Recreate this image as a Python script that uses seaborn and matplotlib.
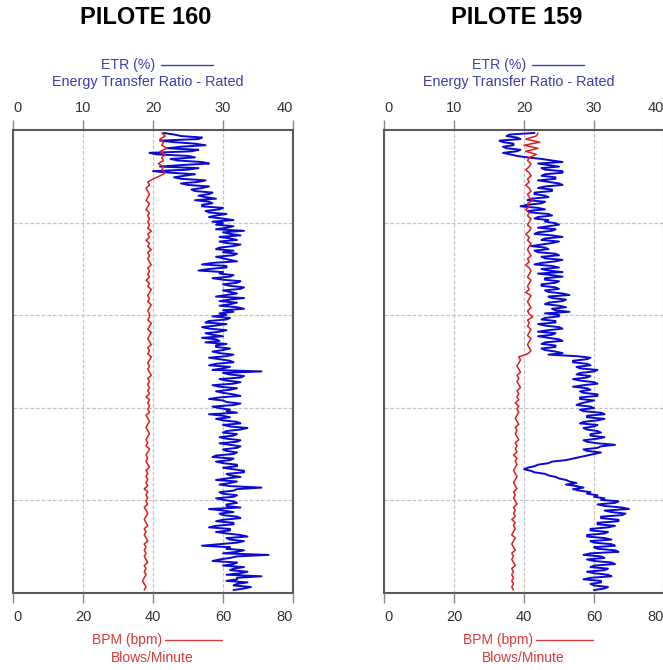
import matplotlib
matplotlib.use("Agg")
import matplotlib.pyplot as plt
import seaborn as sns
import numpy as np
import pandas as pd

sns.set_style("white")
plt.rcParams["font.family"] = ["Liberation Sans", "DejaVu Sans"]

# ---- data -------------------------------------------------------------
titles = ["PILOTE 160", "PILOTE 159"]
etr_ticks = [0, 10, 20, 30, 40]
bpm_ticks = [0, 20, 40, 60, 80]
depth_top, depth_bottom = 0.16, 24.84   # first / last recorded depth (m)

# Energy Transfer Ratio (%) per recorded sample, top to bottom
etr_160 = [
    21.5, 23.0, 24.0, 27.0, 26.5, 21.0, 23.0, 26.0, 27.5, 24.0,
    22.0, 26.5, 25.5, 19.5, 20.5, 25.0, 26.0, 22.5, 23.5, 27.0,
    28.0, 24.0, 21.0, 26.5, 25.0, 20.0, 22.5, 26.0, 24.5, 23.0,
    24.0, 27.5, 26.5, 24.0, 25.0, 28.0, 27.0, 25.5, 26.0, 28.5,
    28.0, 26.5, 27.5, 29.0, 26.0, 28.0, 28.5, 27.0, 27.0, 30.0,
    29.5, 27.5, 28.0, 30.5, 29.0, 28.0, 30.0, 31.5, 28.5, 30.0,
    29.0, 31.5, 30.5, 29.0, 33.0, 30.0, 31.0, 32.5, 29.5, 31.0,
    32.0, 29.5, 30.5, 32.5, 31.5, 29.5, 29.0, 31.5, 30.0, 32.0,
    31.5, 29.0, 30.0, 31.0, 32.0, 28.5, 27.0, 30.5, 30.5, 28.0,
    26.5, 30.0, 29.5, 31.5, 31.0, 28.5, 30.0, 32.5, 32.0, 30.0,
    31.0, 33.0, 32.5, 30.0, 31.0, 32.0, 30.5, 29.0, 33.0, 31.0,
    29.5, 32.0, 31.0, 29.5, 32.0, 33.0, 30.0, 31.5, 29.5, 30.5,
    28.5, 31.0, 30.5, 28.0, 27.5, 30.5, 29.0, 27.0, 28.0, 30.5,
    29.5, 27.5, 28.5, 30.0, 27.0, 29.0, 29.5, 27.5, 30.5, 29.0,
    29.0, 31.0, 30.0, 28.5, 29.5, 31.5, 30.5, 28.0, 29.5, 31.0,
    31.5, 29.0, 28.0, 31.0, 30.0, 28.5, 35.5, 30.0, 31.0, 33.0,
    32.5, 29.5, 30.5, 32.5, 31.5, 28.5, 29.5, 32.0, 31.0, 29.0,
    30.0, 31.5, 32.5, 29.5, 28.0, 30.0, 30.5, 32.5, 31.5, 28.5,
    29.5, 31.0,
    30.5, 32.0, 28.0, 30.0, 31.0, 29.0, 30.0, 32.0, 32.5, 30.0,
    31.0, 33.5, 32.5, 30.5, 30.0, 32.0, 31.5, 29.5, 30.5, 32.5,
    32.0, 29.5, 31.0, 32.5, 32.0, 30.0, 30.5, 32.0, 31.5, 29.0,
    28.5, 31.5, 31.0, 29.0, 30.0, 32.0, 32.0, 30.0, 31.5, 33.0,
    33.0, 30.5, 31.0, 32.5, 30.5, 29.0, 32.0, 31.0, 29.5, 31.0,
    35.5, 32.0, 31.5, 29.5, 30.0, 32.0, 31.5, 29.0, 30.0, 31.5,
    32.0, 30.5,
    30.5, 32.5, 28.0, 30.0, 31.5, 29.5, 30.0, 32.0, 32.5, 30.0,
    29.0, 31.5, 31.5, 29.0, 28.0, 31.0, 31.0, 29.0, 30.5, 32.5,
    33.5, 30.5, 31.0, 33.0, 32.0, 29.5, 27.0, 31.0, 30.5, 33.0,
    32.0, 30.0, 36.5, 32.0, 31.0, 29.5, 28.5, 32.0, 31.5, 30.0,
    33.0, 31.5, 31.0, 33.5, 32.5, 30.5, 35.5, 32.0, 32.0, 30.5,
    33.5, 32.0, 31.5, 34.0, 33.0, 31.5,
]
# Blows per minute per recorded sample, top to bottom
bpm_160 = [
    42.5, 43.5, 42.0, 43.0, 42.5, 44.0, 42.0, 43.5, 42.5, 43.0, 41.5, 43.0, 42.5, 43.5, 42.0,
    40.0, 38.5, 39.0, 38.0, 38.5, 39.0, 38.5, 38.0, 39.0, 38.5, 38.0, 39.0, 38.5, 39.0, 38.5,
    39.0, 38.5, 39.5, 38.5, 39.0, 38.0, 39.0, 38.5, 39.5, 38.5, 39.0, 38.5, 39.0, 39.5, 38.5,
    39.0, 38.5, 39.0, 38.0, 39.0, 38.5, 39.5, 39.0, 38.5, 39.0, 38.5, 39.5, 39.0, 38.5, 39.0,
    39.0, 38.5, 39.5, 39.0, 38.5, 39.5, 39.0, 38.5, 39.0, 39.5, 38.5, 39.0, 38.5, 39.5, 39.0,
    38.5, 39.0, 38.5, 39.0, 39.5, 38.5, 39.0, 38.5, 39.0, 38.5, 39.0, 38.0, 39.0, 38.5, 39.0,
    38.5, 39.0, 38.0, 38.5, 39.0, 38.5, 38.0, 38.5, 39.0, 38.5, 38.0, 38.5, 38.0, 39.0, 38.5,
    38.0, 38.5, 38.0, 38.5, 39.0, 38.0, 38.5, 38.0, 38.5, 38.0, 38.5, 37.5, 38.5, 38.0, 38.5,
    38.0, 38.5, 37.5, 38.0, 38.5, 38.0, 37.5, 38.0, 38.5, 37.5, 38.0, 37.5, 38.0, 38.5, 37.5,
    38.0, 37.5, 38.0, 37.5, 38.0, 38.5, 37.5, 38.0, 37.5, 38.0, 37.5, 37.0, 37.5, 38.0, 37.5,
]
etr_159 = [
    21.5, 18.0, 17.5, 19.0, 19.5, 16.5, 17.0, 18.5, 18.5, 17.0,
    17.5, 19.5, 19.0, 17.0, 18.0, 19.0, 20.5, 22.5,
    24.0, 25.5, 22.0, 23.5, 25.0, 22.5, 23.0, 25.5, 25.5, 23.0,
    22.5, 24.5, 24.5, 22.0, 23.5, 25.0, 25.5, 23.0, 22.0, 24.0,
    24.0, 21.5, 21.5, 23.0, 23.5, 21.0, 20.5, 23.0, 22.5, 20.5,
    19.5, 22.0, 23.0, 20.5, 21.0, 23.5, 24.0, 22.0, 21.5, 23.5,
    23.0, 24.5,
    25.0, 23.5, 22.0, 24.5, 24.0, 22.0, 21.5, 24.0, 25.5, 23.0,
    22.5, 25.0, 24.0, 22.5, 21.0, 23.0, 23.5, 21.5, 22.0, 24.5,
    25.0, 22.5, 23.0, 25.5, 24.5, 22.5, 21.5, 24.0, 25.0, 22.5,
    23.5, 25.5, 22.0, 24.0, 25.5, 23.0, 23.0, 25.0, 24.5, 22.5,
    22.5, 24.5, 25.0, 23.0, 23.5, 25.5, 26.5, 23.5, 24.0, 26.0,
    25.5, 23.5, 23.0, 25.0, 26.0, 24.0, 24.5, 26.5, 23.0, 25.0,
    25.0, 23.0, 22.5, 24.5, 24.5, 22.0, 23.0, 25.0, 25.5, 23.5,
    22.0, 24.5, 24.0, 22.0, 23.5, 25.0, 25.5, 23.0, 22.5, 24.5,
    24.5, 22.5, 23.0, 24.5, 25.5, 23.5,
    27.5, 29.5, 29.0, 27.0, 27.0, 29.0, 29.5, 27.5, 28.0, 30.5,
    30.0, 28.0, 27.5, 29.5, 29.0, 27.0, 28.0, 30.0, 30.5, 28.5,
    27.0, 29.0, 29.5, 28.0, 28.5, 30.5, 30.5, 28.0, 28.0, 30.0,
    29.0, 28.0, 27.5, 29.5, 30.0, 28.0, 28.5, 31.0, 31.5, 29.0,
    29.0, 31.5, 30.5, 28.5, 28.0, 30.5, 30.0, 28.5, 29.0, 30.5,
    31.0, 29.5, 29.5, 31.5, 30.5, 28.5, 29.0, 30.5, 33.0, 31.0,
    30.5, 28.5, 29.0, 31.0, 30.0, 29.0,
    28.0, 27.0, 26.0, 24.0, 23.5, 22.0, 21.5, 20.5, 20.0, 21.0,
    21.5, 23.0, 23.5, 24.5, 25.0, 26.0, 26.5, 27.5, 26.0, 27.5,
    28.5, 27.0, 28.0, 29.5, 29.0, 30.5, 30.0, 31.5,
    31.0, 33.5, 33.0, 30.5, 31.5, 34.0, 35.0, 31.5, 32.5, 34.5,
    34.0, 31.0, 31.0, 33.5, 33.5, 30.5, 30.5, 33.0, 32.0, 29.5,
    29.5, 32.0, 31.5, 29.0, 29.0, 31.5, 32.5, 29.5, 30.0, 32.5,
    33.0, 30.0, 30.5, 33.0, 33.5, 29.5, 28.5, 31.0, 31.5, 29.0,
    30.0, 32.5, 33.0, 30.0, 29.5, 32.0, 31.5, 29.0, 30.0, 32.0,
    32.5, 29.5, 28.5, 31.0, 31.0, 29.5, 30.0, 32.0, 31.5, 30.0,
]
bpm_159 = [
    44.0, 43.5, 40.5, 44.5, 40.0, 44.0, 40.5, 43.5, 41.5,
    41.0, 42.0, 41.5, 40.5, 41.5, 42.0, 41.0, 41.5, 40.5, 41.5, 42.0, 41.0, 41.5, 42.5, 41.0,
    41.5, 40.5, 41.5, 41.0, 42.0, 41.5, 41.0, 42.0, 41.5, 40.5, 41.5, 41.0, 42.0, 41.5, 41.0,
    41.5, 42.0, 41.0, 41.5, 40.5, 41.5, 42.0, 41.5, 41.0, 42.0, 41.5, 41.0, 41.5, 40.5, 42.0,
    41.5, 41.0, 41.5, 42.0, 41.0, 41.5, 42.5, 41.0, 41.5, 41.0, 42.0, 41.5, 41.0, 42.0, 41.5,
    41.0, 41.5, 42.0, 41.0,
    38.5, 39.0, 38.5, 38.0, 38.5, 39.0, 38.0, 38.5, 38.0, 38.5, 39.0, 38.0, 38.5, 38.0, 38.5,
    37.5, 38.5, 38.0, 38.5, 38.0, 37.5, 38.0, 38.5, 37.5, 38.0, 37.5, 38.0, 38.5, 37.5, 38.0,
    37.5, 38.0, 37.0, 38.0, 37.5, 38.0, 37.5, 37.0, 37.5, 38.0, 37.5, 37.0, 37.5, 38.0, 37.0,
    37.5, 37.0, 37.5, 38.0, 37.0, 37.5, 37.0, 37.5, 36.5, 37.5, 37.0, 37.5, 37.0, 36.5, 37.5,
    37.0, 36.5, 37.0, 37.5, 36.5, 37.0, 36.5, 37.0, 37.5, 36.5, 37.0, 36.5, 37.0, 36.5, 37.0,
    36.5, 37.0,
]

# ---- style ------------------------------------------------------------
ETR_LINE = "#0a0ad0"
BPM_LINE = "#dd1f1f"
ETR_TEXT = "#3d3dab"
BPM_TEXT = "#d63a3a"
SPINE = "#5a5a5a"
GRID = "#c4c4c4"
TICKLBL = "#333333"

W, H = 663, 670
fig = plt.figure(figsize=(W / 100, H / 100), dpi=100)
fig.patch.set_facecolor("white")

panel_left_px = [13, 384]
ax_w_px, ax_h_px, ax_bottom_px = 280, 463, 77
y_max = 25.0


def align_end_labels(axis, top):
    ticks = axis.get_major_ticks()
    for i, t in enumerate(ticks):
        lbl = t.label2 if top else t.label1
        if i == 0:
            lbl.set_horizontalalignment("left")
        elif i == len(ticks) - 1:
            lbl.set_horizontalalignment("right")


for left_px, title, etr, bpm in zip(panel_left_px, titles,
                                    [etr_160, etr_159], [bpm_160, bpm_159]):
    ax = fig.add_axes([left_px / W, ax_bottom_px / H, ax_w_px / W, ax_h_px / H])
    ax2 = ax.twiny()

    # samples are evenly spaced along the pile
    df_etr = pd.DataFrame({"depth": np.linspace(depth_top, depth_bottom, len(etr)),
                           "ETR": etr})
    df_bpm = pd.DataFrame({"depth": np.linspace(depth_top, depth_bottom, len(bpm)),
                           "BPM": bpm})

    sns.lineplot(data=df_etr, x="ETR", y="depth", sort=False, estimator=None,
                 orient="y", ax=ax, color=ETR_LINE, linewidth=1.4)
    sns.lineplot(data=df_bpm, x="BPM", y="depth", sort=False, estimator=None,
                 orient="y", ax=ax2, color=BPM_LINE, linewidth=1.1)

    # ETR scale on top
    ax.set_xlim(0, 40)
    ax.set_xticks(etr_ticks)
    ax.xaxis.set_ticks_position("top")
    ax.tick_params(axis="x", which="both", top=True, bottom=False, labeltop=True,
                   labelbottom=False, direction="out", length=7, width=1,
                   color="#888888", pad=4, labelsize=10.5, labelcolor=TICKLBL)
    # BPM scale at bottom
    ax2.set_xlim(0, 80)
    ax2.set_xticks(bpm_ticks)
    ax2.xaxis.set_ticks_position("bottom")
    ax2.tick_params(axis="x", which="both", top=False, bottom=True, labeltop=False,
                    labelbottom=True, direction="out", length=7, width=1,
                    color="#888888", pad=5, labelsize=10.5, labelcolor=TICKLBL)

    # depth runs downwards, five equal bands
    ax.set_ylim(y_max, 0)
    ax.set_yticks([5, 10, 15, 20])
    ax.tick_params(axis="y", left=False, labelleft=False, right=False)
    for a in (ax, ax2):
        a.set_xlabel("")
        a.set_ylabel("")

    ax.grid(True, color=GRID, linestyle=(0, (3, 1.5)), linewidth=0.9)
    ax.set_axisbelow(True)

    for s in ax.spines.values():
        s.set_visible(True)
        s.set_color(SPINE)
        s.set_linewidth(1.5)
    for s in ax2.spines.values():
        s.set_visible(False)

    align_end_labels(ax.xaxis, top=True)
    align_end_labels(ax2.xaxis, top=False)

    # axis captions with their line keys
    ax.text(0.41, 1.140, "ETR (%)", transform=ax.transAxes, ha="center",
            va="center", fontsize=10.2, color=ETR_TEXT)
    ax.plot([0.53, 0.715], [1.140, 1.140], transform=ax.transAxes,
            color=ETR_TEXT, lw=1.0, clip_on=False)
    ax.text(0.48, 1.104, "Energy Transfer Ratio - Rated", transform=ax.transAxes,
            ha="center", va="center", fontsize=10.4, color=ETR_TEXT)

    ax.text(0.409, -0.1015, "BPM (bpm)", transform=ax.transAxes, ha="center",
            va="center", fontsize=10, color=BPM_TEXT)
    ax.plot([0.543, 0.746], [-0.1015, -0.1015], transform=ax.transAxes,
            color=BPM_TEXT, lw=1.0, clip_on=False)
    ax.text(0.497, -0.140, "Blows/Minute", transform=ax.transAxes, ha="center",
            va="center", fontsize=10, color=BPM_TEXT)

    fig.text((left_px + 0.475 * ax_w_px) / W, 1 - 17 / H, title, ha="center",
             va="center", fontsize=17, fontweight="bold", color="black")

fig.savefig("out.png", dpi=100, facecolor="white")
